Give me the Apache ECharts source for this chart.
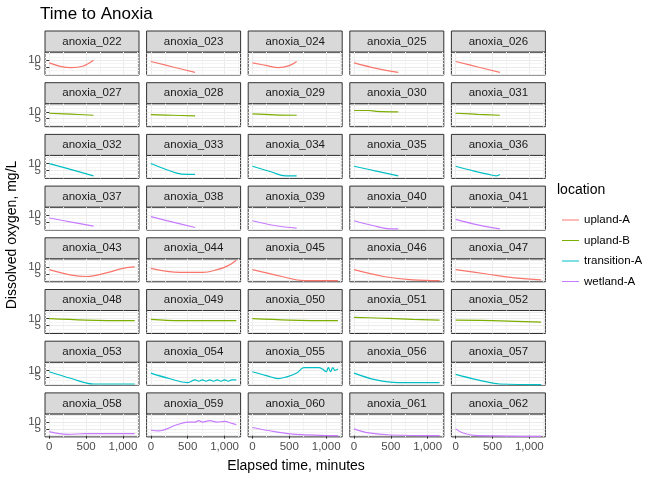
<!DOCTYPE html>
<html>
<head>
<meta charset="utf-8">
<script src="https://cdn.jsdelivr.net/npm/echarts@6/dist/echarts.min.js"></script>
<style>html,body{margin:0;padding:0;background:#fff}#chart{width:672px;height:480px}</style>
</head>
<body>
<div id="chart"></div>
<script>
const locations = ['upland-A', 'upland-B', 'transition-A', 'wetland-A'];
const colors = ['#F8766D', '#7CAE00', '#00BFC4', '#C77CFF'];
const xTicks = [0, 500, 1000];
const yTicks = [0, 5, 10, 15];

// panel id, location index, [minutes, mg/L] points
const panels = [
  ['anoxia_022', 0, [[0,8],[150,5.5],[300,4.5],[450,5.5],[600,10]]],
  ['anoxia_023', 0, [[0,9],[300,5],[600,1]]],
  ['anoxia_024', 0, [[0,8],[200,6],[350,4.5],[500,6],[600,9]]],
  ['anoxia_025', 0, [[0,8],[300,4],[600,1]]],
  ['anoxia_026', 0, [[0,9],[300,5],[600,1]]],
  ['anoxia_027', 1, [[0,9],[300,8.3],[600,7.5]]],
  ['anoxia_028', 1, [[0,8],[300,7.5],[600,7]]],
  ['anoxia_029', 1, [[0,8.5],[300,7.8],[600,7.5]]],
  ['anoxia_030', 1, [[0,11],[200,11],[300,10.4],[600,10]]],
  ['anoxia_031', 1, [[0,9],[300,8.2],[600,7.5]]],
  ['anoxia_032', 2, [[0,10],[300,5.5],[600,1]]],
  ['anoxia_033', 2, [[0,10],[350,3],[500,2],[600,2]]],
  ['anoxia_034', 2, [[0,8],[250,4],[450,1],[600,1]]],
  ['anoxia_035', 2, [[0,8],[300,4.5],[600,1]]],
  ['anoxia_036', 2, [[0,8],[250,4.5],[450,2],[550,1],[600,2]]],
  ['anoxia_037', 3, [[0,8],[300,5],[600,2]]],
  ['anoxia_038', 3, [[0,9],[300,5],[600,1]]],
  ['anoxia_039', 3, [[0,6],[300,2.5],[600,0.5]]],
  ['anoxia_040', 3, [[0,6],[250,2.5],[500,0],[600,0]]],
  ['anoxia_041', 3, [[0,7],[300,3],[600,0]]],
  ['anoxia_043', 0, [[0,8],[300,4],[500,3],[800,6],[1000,9],[1160,10]]],
  ['anoxia_044', 0, [[0,9],[400,6],[700,6],[900,8],[1050,11],[1160,15]]],
  ['anoxia_045', 0, [[0,8],[400,3],[700,0],[1160,0]]],
  ['anoxia_046', 0, [[0,8],[400,3],[800,0.5],[1160,0]]],
  ['anoxia_047', 0, [[0,8],[400,5],[800,2],[1160,0.5]]],
  ['anoxia_048', 1, [[0,10],[500,9],[1160,8.5]]],
  ['anoxia_049', 1, [[0,9.5],[400,8.5],[1160,8.5]]],
  ['anoxia_050', 1, [[0,10],[500,9],[1160,8.5]]],
  ['anoxia_051', 1, [[0,11],[300,10.5],[800,9.5],[1160,9]]],
  ['anoxia_052', 1, [[0,9],[500,8.5],[1160,7.5]]],
  ['anoxia_053', 2, [[0,9],[300,4],[600,0],[1160,0]]],
  ['anoxia_054', 2, [[0,8],[250,4],[500,1],[600,3],[650,2],[700,3],[750,2],[800,3],[850,2],[900,3],[950,2],[1000,3],[1050,2],[1100,3],[1160,3]]],
  ['anoxia_055', 2, [[0,9],[200,6],[350,4],[450,5],[600,8],[700,12],[900,12],[950,11],[1000,9],[1030,12],[1060,9],[1090,12],[1120,10],[1160,11]]],
  ['anoxia_056', 2, [[0,8],[300,3],[600,1],[1160,1]]],
  ['anoxia_057', 2, [[0,7],[300,3],[600,0],[1160,-0.5]]],
  ['anoxia_058', 3, [[0,3],[250,1],[500,1.5],[1160,1.5]]],
  ['anoxia_059', 3, [[0,4],[100,3.5],[350,8],[500,10],[600,10],[650,11],[700,10],[800,11],[900,10],[1000,10.5],[1100,9],[1160,8]]],
  ['anoxia_060', 3, [[0,6],[300,3],[600,1],[1160,0]]],
  ['anoxia_061', 3, [[0,5],[200,2],[500,0.5],[1160,0]]],
  ['anoxia_062', 3, [[0,5],[100,2],[300,0],[1160,-0.5]]]
];

const colLeft = 45, colStep = 101.6, panelW = 94;
const rowTop = 31, rowStep = 51.7, stripH = 21, panelH = 23;

const grids = [], xAxes = [], yAxes = [], series = [], graphics = [];
panels.forEach((p, i) => {
  const r = Math.floor(i / 5), c = i % 5;
  const left = colLeft + c * colStep, top = rowTop + r * rowStep;
  const bottomRow = r === 7, firstCol = c === 0;
  grids.push({left: left, top: top + stripH, width: panelW, height: panelH,
    show: true, borderColor: '#333', borderWidth: 1, backgroundColor: '#fff'});
  graphics.push({type: 'rect', shape: {x: left, y: top, width: panelW, height: stripH},
    style: {fill: '#D9D9D9', stroke: '#333', lineWidth: 1}});
  graphics.push({type: 'text', x: left + panelW / 2, y: top + stripH / 2,
    style: {text: p[0], fill: '#1A1A1A', font: '11.5px "Liberation Sans", Arial', align: 'center', verticalAlign: 'middle'}});
  xAxes.push({type: 'value', gridIndex: i, min: -58, max: 1218, interval: 500,
    axisLine: {show: false}, axisTick: {show: bottomRow, lineStyle: {color: '#333'}, length: 3},
    axisLabel: {show: bottomRow, color: '#4D4D4D', fontSize: 11.5, margin: 4,
      customValues: xTicks}, 
    axisTick: {show: bottomRow, customValues: xTicks, length: 3, lineStyle: {color: '#333'}},
    splitLine: {lineStyle: {color: '#EBEBEB', width: 1}},
    minorTick: {show: false, splitNumber: 2}, minorSplitLine: {show: true, lineStyle: {color: '#F4F4F4'}}});
  yAxes.push({type: 'value', gridIndex: i, min: -0.9, max: 16, 
    axisLine: {show: false},
    axisLabel: {show: firstCol, color: '#4D4D4D', fontSize: 11.5, margin: 4, interval: 0, customValues: yTicks},
    axisTick: {show: firstCol, customValues: yTicks, length: 3, lineStyle: {color: '#333'}},
    splitLine: {show: false}});
  series.push({type: 'line', name: locations[p[1]], xAxisIndex: i, yAxisIndex: i,
    data: p[2], smooth: 0.4, showSymbol: false, silent: true,
    lineStyle: {color: colors[p[1]], width: 1.2}, itemStyle: {color: colors[p[1]]}});
  // y grid lines drawn as markLines-free: use split lines on ticks
  series.push({type: 'line', xAxisIndex: i, yAxisIndex: i, silent: true, showSymbol: false,
    data: [], markLine: {silent: true, symbol: 'none', label: {show: false},
      lineStyle: {color: '#EBEBEB', width: 1, type: 'solid'}, z: 0,
      data: yTicks.map(v => ({yAxis: v})).concat([2.5, 7.5, 12.5].map(v => ({yAxis: v, lineStyle: {color: '#F4F4F4'}})))}});
});

graphics.push({type: 'text', x: 40, y: 6, style: {text: 'Time to Anoxia', fill: '#000', font: '17px "Liberation Sans", Arial'}});
graphics.push({type: 'text', x: 296, y: 466, style: {text: 'Elapsed time, minutes', fill: '#000', font: '14px "Liberation Sans", Arial', align: 'center', verticalAlign: 'middle'}});
graphics.push({type: 'text', x: 12, y: 235, rotation: Math.PI / 2, style: {text: 'Dissolved oxygen, mg/L', fill: '#000', font: '14px "Liberation Sans", Arial', align: 'center', verticalAlign: 'middle'}});
graphics.push({type: 'text', x: 557, y: 190, style: {text: 'location', fill: '#000', font: '14px "Liberation Sans", Arial', verticalAlign: 'middle'}});

const chart = echarts.init(document.getElementById('chart'), null, {renderer: 'canvas'});
chart.setOption({
  animation: false,
  grid: grids,
  xAxis: xAxes,
  yAxis: yAxes,
  series: series,
  graphic: graphics,
  legend: {data: locations, orient: 'vertical', left: 557, top: 209, itemGap: 8.5,
    itemWidth: 17, itemHeight: 14, icon: 'path://M0,7 L17,7 L17,8 L0,8 Z',
    textStyle: {fontSize: 11.5, color: '#000', fontFamily: 'Liberation Sans'},
    selectedMode: false}
});
</script>
</body>
</html>
